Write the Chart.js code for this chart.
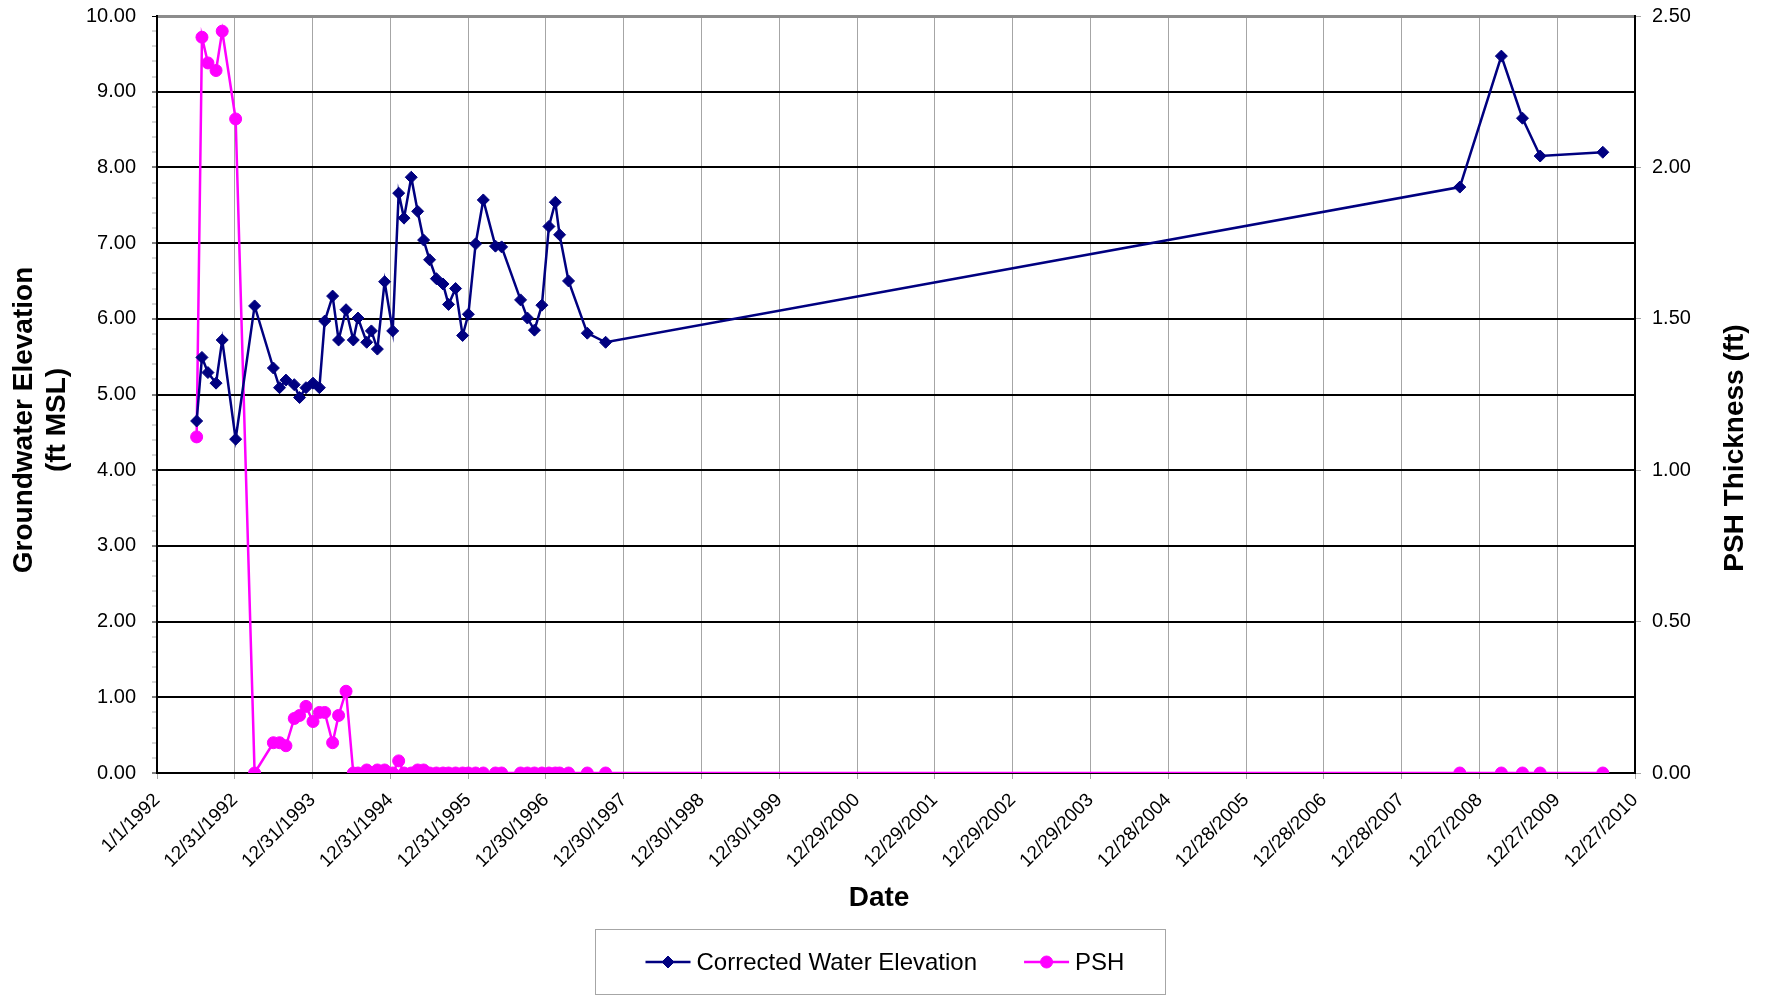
<!DOCTYPE html>
<html>
<head>
<meta charset="utf-8">
<title>Groundwater Elevation and PSH Thickness</title>
<script src="https://cdn.jsdelivr.net/npm/chart.js@4.4.1/dist/chart.umd.min.js"></script>
<style>
  html, body { margin: 0; padding: 0; background: #fff; }
  #wrap { width: 1765px; height: 997px; }
</style>
</head>
<body>
<div id="wrap"><canvas id="chart" width="1765" height="997"></canvas></div>
<script>
// gauging dates
const sampleDates = [
  '1992-07-05', '1992-07-30', '1992-08-27', '1992-10-04', '1992-11-02', '1993-01-04',
  '1993-04-03', '1993-06-30', '1993-07-29', '1993-08-28', '1993-10-06', '1993-10-31',
  '1993-11-30', '1994-01-02', '1994-02-01', '1994-02-26', '1994-04-04', '1994-05-02',
  '1994-06-06', '1994-07-10', '1994-08-01', '1994-09-11', '1994-10-03', '1994-10-31',
  '1994-12-04', '1995-01-11', '1995-02-08', '1995-03-05', '1995-04-08', '1995-05-08',
  '1995-06-05', '1995-07-03', '1995-08-04', '1995-09-04', '1995-09-30', '1995-11-02',
  '1995-12-05', '1996-01-01', '1996-02-04', '1996-03-11', '1996-05-07', '1996-06-05',
  '1996-09-02', '1996-10-04', '1996-11-06', '1996-12-11', '1997-01-13', '1997-02-12',
  '1997-03-04', '1997-04-15', '1997-07-12', '1997-10-06', '2008-09-26', '2009-04-09',
  '2009-07-17', '2009-10-08', '2010-07-29'
];

// ft MSL, left axis
const correctedElevation = [
  4.65, 5.49, 5.29, 5.15, 5.72, 4.41,
  6.17, 5.35, 5.09, 5.19, 5.13, 4.96,
  5.09, 5.15, 5.09, 5.97, 6.30, 5.72,
  6.12, 5.72, 6.01, 5.69, 5.84, 5.60,
  6.49, 5.84, 7.66, 7.33, 7.87, 7.42,
  7.04, 6.78, 6.53, 6.46, 6.19, 6.40,
  5.78, 6.06, 6.99, 7.57, 6.96, 6.95,
  6.25, 6.01, 5.85, 6.18, 7.22, 7.54,
  7.11, 6.50, 5.81, 5.69, 7.74, 9.47,
  8.65, 8.15, 8.20
];

// ft, right axis
const pshThickness = [
  1.11, 2.43, 2.345, 2.32, 2.45, 2.16,
  0.00, 0.10, 0.10, 0.09, 0.18, 0.19,
  0.22, 0.17, 0.20, 0.20, 0.10, 0.19,
  0.27, 0.00, 0.00, 0.01, 0.00, 0.01,
  0.01, 0.00, 0.04, 0.00, 0.00, 0.01,
  0.01, 0.00, 0.00, 0.00, 0.00, 0.00,
  0.00, 0.00, 0.00, 0.00, 0.00, 0.00,
  0.00, 0.00, 0.00, 0.00, 0.00, 0.00,
  0.00, 0.00, 0.00, 0.00, 0.00, 0.00,
  0.00, 0.00, 0.00
];

const xTickLabels = [
  '1/1/1992', '12/31/1992', '12/31/1993', '12/31/1994', '12/31/1995', '12/30/1996',
  '12/30/1997', '12/30/1998', '12/30/1999', '12/29/2000', '12/29/2001', '12/29/2002',
  '12/29/2003', '12/28/2004', '12/28/2005', '12/28/2006', '12/28/2007', '12/27/2008',
  '12/27/2009', '12/27/2010'
];
const xTickStepDays = 365;

const seriesNames = ['Corrected Water Elevation', 'PSH'];

const FONT = '"Liberation Sans", Arial, sans-serif';
Chart.defaults.font.family = FONT;
Chart.defaults.color = '#000';

const startUtc = Date.UTC(1992, 0, 1);
function dagSzam(iso) {
  const [y, m, d] = iso.split('-').map(Number);
  return (Date.UTC(y, m - 1, d) - startUtc) / 86400000;
}
const isWhole = v => Math.abs(v - Math.round(v)) < 1e-6;

// fixed axis box sizes, no extra label padding
function fixWidth(w) {
  return s => { s.width = w; s.paddingTop = 0; s.paddingBottom = 0; };
}

const tengelyCimek = {
  id: 'tengelyCimek',
  afterDraw(chart) {
    const ctx = chart.ctx;
    ctx.save();
    ctx.fillStyle = '#000';
    ctx.font = 'bold 28px ' + FONT;
    ctx.textAlign = 'center';
    ctx.textBaseline = 'middle';
    ctx.fillText('Date', 879, 898);

    ctx.save();
    ctx.translate(24, 420);
    ctx.rotate(-Math.PI / 2);
    ctx.fillText('Groundwater Elevation', 0, 0);
    ctx.restore();
    ctx.save();
    ctx.translate(57, 420);
    ctx.rotate(-Math.PI / 2);
    ctx.fillText('(ft MSL)', 0, 0);
    ctx.restore();

    ctx.save();
    ctx.translate(1735, 448);
    ctx.rotate(-Math.PI / 2);
    ctx.fillText('PSH Thickness (ft)', 0, 0);
    ctx.restore();
    ctx.restore();
  }
};

const jelmagyarazat = {
  id: 'jelmagyarazat',
  afterDraw(chart) {
    const ctx = chart.ctx;
    const boxW = 570, boxH = 65;
    const boxX = Math.round(chart.width / 2 - 3 - boxW / 2) + 0.5;
    const boxY = 929.5;
    ctx.save();
    ctx.strokeStyle = '#a6a6a6';
    ctx.lineWidth = 1;
    ctx.strokeRect(boxX, boxY, boxW, boxH);
    const midY = boxY + boxH / 2;
    ctx.font = '24px ' + FONT;
    ctx.textBaseline = 'middle';
    ctx.textAlign = 'left';
    let x = boxX + 50;
    chart.data.datasets.forEach(ds => {
      ctx.strokeStyle = ds.borderColor;
      ctx.lineWidth = 2.5;
      ctx.beginPath();
      ctx.moveTo(x, midY);
      ctx.lineTo(x + 45, midY);
      ctx.stroke();
      ctx.fillStyle = ds.backgroundColor;
      ctx.lineWidth = 1;
      Chart.helpers.drawPoint(ctx, { pointStyle: ds.pointStyle, radius: 6, borderWidth: 1, rotation: 0 }, x + 22.5, midY);
      ctx.fillStyle = '#000';
      ctx.fillText(ds.label, x + 51, midY + 1);
      x += 51 + ctx.measureText(ds.label).width + 47;
    });
    ctx.restore();
  }
};

const pontok = vals => vals.map((v, i) => ({ x: dagSzam(sampleDates[i]), y: v }));

new Chart(document.getElementById('chart').getContext('2d'), {
  type: 'line',
  data: {
    datasets: [
      {
        label: seriesNames[0],
        data: pontok(correctedElevation),
        yAxisID: 'y',
        borderColor: '#000080',
        backgroundColor: '#000080',
        borderWidth: 2.5,
        pointStyle: 'rectRot',
        pointRadius: 6,
        pointBorderWidth: 1,
        tension: 0
      },
      {
        label: seriesNames[1],
        data: pontok(pshThickness),
        yAxisID: 'y2',
        borderColor: '#ff00ff',
        backgroundColor: '#ff00ff',
        borderWidth: 2.5,
        pointStyle: 'circle',
        pointRadius: 6,
        pointBorderWidth: 1,
        tension: 0
      }
    ]
  },
  options: {
    responsive: false,
    animation: false,
    devicePixelRatio: 1,
    layout: { padding: { top: 16, bottom: 79, left: 0, right: 0 } },
    plugins: {
      legend: { display: false },
      tooltip: { enabled: false }
    },
    scales: {
      x: {
        type: 'linear',
        min: 0,
        max: xTickStepDays * (xTickLabels.length - 1),
        afterBuildTicks(s) { s.ticks = xTickLabels.map((_, i) => ({ value: i * xTickStepDays })); },
        afterFit(s) { s.height = 145; s.paddingLeft = 0; s.paddingRight = 0; },
        ticks: {
          autoSkip: false,
          minRotation: 45,
          maxRotation: 45,
          padding: 10,
          font: { size: 19 },
          callback: (v, i) => xTickLabels[i]
        },
        grid: { color: '#a6a6a6', lineWidth: 1, tickLength: 6 },
        border: { color: '#000', width: 2 }
      },
      y: {
        position: 'left',
        min: 0,
        max: 10,
        afterFit: fixWidth(157),
        ticks: {
          stepSize: 0.2,
          maxTicksLimit: 60,
          autoSkip: false,
          padding: 16,
          font: { size: 20 },
          callback: v => isWhole(v) ? v.toFixed(2) : ''
        },
        grid: {
          color: c => {
            if (!c.tick) return '#000';
            if (c.tick.value >= 10 - 1e-6) return '#8c8c8c';
            return isWhole(c.tick.value) ? '#000' : 'rgba(0,0,0,0)';
          },
          lineWidth: c => (c.tick && c.tick.value >= 10 - 1e-6) ? 3 : 2,
          tickColor: c => (c.tick && isWhole(c.tick.value)) ? '#000' : '#b0b0b0',
          tickWidth: 1,
          tickLength: 5
        },
        border: { color: '#000', width: 2 }
      },
      y2: {
        position: 'right',
        min: 0,
        max: 2.5,
        afterFit: fixWidth(130),
        ticks: {
          stepSize: 0.5,
          padding: 11,
          font: { size: 20 },
          callback: v => v.toFixed(2)
        },
        grid: { drawOnChartArea: false, color: '#a6a6a6', tickLength: 6 },
        border: { color: '#000', width: 2 }
      }
    }
  },
  plugins: [tengelyCimek, jelmagyarazat]
});
</script>
</body>
</html>
